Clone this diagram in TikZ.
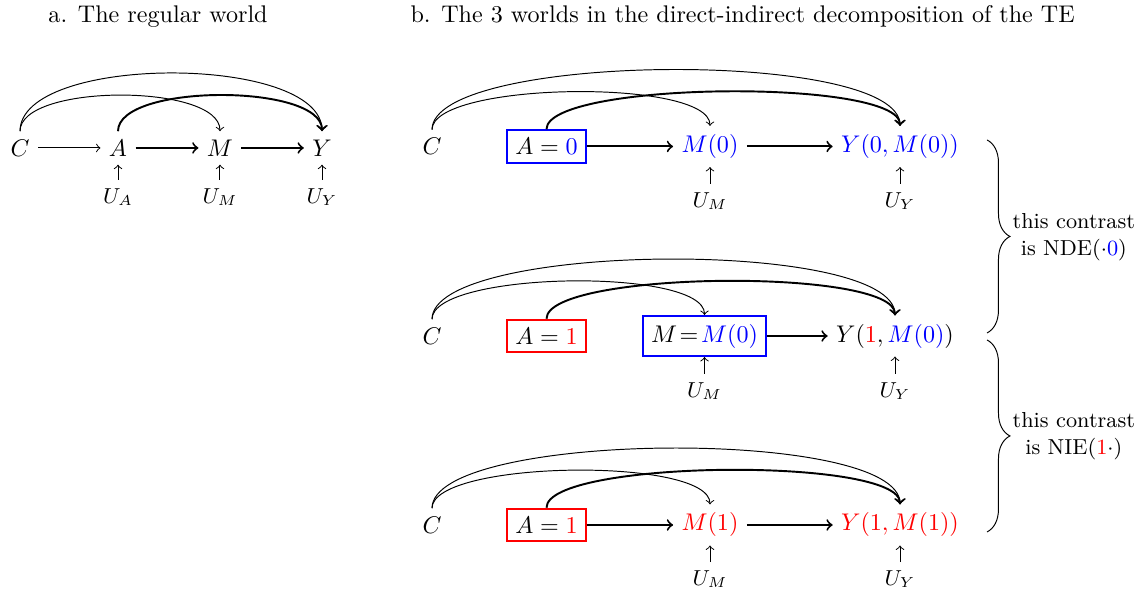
\documentclass[tikz,border=0pt]{standalone}
\usepackage{amsmath}
\usepackage{tikz}
\usetikzlibrary{decorations.pathreplacing}

\begin{document}
\begin{tikzpicture}[
    causal/.style={->, thick},
    noise/.style={->},
    setbox/.style={draw, thick},
    unode/.style={font=\small},
    longarc/.style={out=90, in=90, distance=1.13cm},
    shortarc/.style={out=90, in=90, distance=0.7cm},
    contrast/.style={decorate, decoration={brace, amplitude=9.5pt}}
]
    \useasboundingbox (0,0) rectangle (16.625,8.633);
    % Titles
    \node[anchor=base west, inner sep=0] (ta) at (0.70,8.30) {a. The regular world};
    \node[anchor=base west, inner sep=0] (tb) at (5.98,8.30) {b. The 3 worlds in the direct-indirect decomposition of the TE};

    % a. The regular world
    \node (C) at (0.292,6.475) {$C$};
    \node (A) at (1.721,6.475) {$A$};
    \node (M) at (3.208,6.475) {$M$};
    \node (Y) at (4.696,6.475) {$Y$};
    \node[unode] (UA) at (1.721,5.760) {$U_A$};
    \node[unode] (UM) at (3.208,5.760) {$U_M$};
    \node[unode] (UY) at (4.696,5.760) {$U_Y$};
    \draw[->] (C) -- (A);
    \draw[causal] (A) -- (M);
    \draw[causal] (M) -- (Y);
    \draw[noise] (UA) -- (A);
    \draw[noise] (UM) -- (M);
    \draw[noise] (UY) -- (Y);
    \draw[->] (C.north) to[longarc] (Y.north);
    \draw[->] (C.north) to[shortarc] (M.north);
    \draw[causal] (A.north) to[shortarc] (Y.north);

    % b. world 1: A=0, M(0)
    \node (C1) at (6.300,6.497) {$C$};
    \node[setbox, blue] (A1) at (7.970,6.497) {$\color{black}A = {\color{blue}0}$};
    \node (M1) at (10.354,6.497) {$\color{blue}M(0)$};
    \node (Y1) at (13.125,6.497) {$\color{blue}Y(0, M(0))$};
    \node[unode] (UM1) at (10.354,5.702) {$U_M$};
    \node[unode] (UY1) at (13.125,5.702) {$U_Y$};
    \draw[causal] (A1) -- (M1);
    \draw[causal] (M1) -- (Y1);
    \draw[noise] (UM1) -- (M1);
    \draw[noise] (UY1) -- (Y1);
    \draw[->] (C1.north) to[longarc] (Y1.north);
    \draw[->] (C1.north) to[shortarc] (M1.north);
    \draw[causal] (A1.north) to[shortarc] (Y1.north);

    % b. world 2: A=1, M fixed at M(0)
    \node (C2) at (6.300,3.733) {$C$};
    \node[setbox, red] (A2) at (7.970,3.733) {$\color{black}A = {\color{red}1}$};
    \node[setbox, blue] (M2) at (10.274,3.733) {$\color{black}M\!=\!{\color{blue}M(0)}$};
    \node (Y2) at (13.052,3.733) {$Y({\color{red}1}, {\color{blue}M(0)})$};
    \node[unode] (UM2) at (10.274,2.931) {$U_M$};
    \node[unode] (UY2) at (13.052,2.931) {$U_Y$};
    \draw[causal] (M2) -- (Y2);
    \draw[noise] (UM2) -- (M2);
    \draw[noise] (UY2) -- (Y2);
    \draw[->] (C2.north) to[longarc] (Y2.north);
    \draw[->] (C2.north) to[shortarc] (M2.north);
    \draw[causal] (A2.north) to[shortarc] (Y2.north);

    % b. world 3: A=1, M(1)
    \node (C3) at (6.300,0.977) {$C$};
    \node[setbox, red] (A3) at (7.970,0.977) {$\color{black}A = {\color{red}1}$};
    \node (M3) at (10.354,0.977) {$\color{red}M(1)$};
    \node (Y3) at (13.125,0.977) {$\color{red}Y(1, M(1))$};
    \node[unode] (UM3) at (10.354,0.185) {$U_M$};
    \node[unode] (UY3) at (13.125,0.185) {$U_Y$};
    \draw[causal] (A3) -- (M3);
    \draw[causal] (M3) -- (Y3);
    \draw[noise] (UM3) -- (M3);
    \draw[noise] (UY3) -- (Y3);
    \draw[->] (C3.north) to[longarc] (Y3.north);
    \draw[->] (C3.north) to[shortarc] (M3.north);
    \draw[causal] (A3.north) to[shortarc] (Y3.north);

    % Contrasts
    \coordinate (b1top) at (14.394,6.592);
    \coordinate (b1bot) at (14.394,3.777);
    \coordinate (b2top) at (14.394,3.675);
    \coordinate (b2bot) at (14.394,0.875);
    \draw[contrast] (b1top) -- (b1bot);
    \draw[contrast] (b2top) -- (b2bot);
    \node[align=center, font=\small] (nde) at (15.66,5.177) {this contrast\\is NDE($\cdot${\color{blue}0})};
    \node[align=center, font=\small] (nie) at (15.66,2.275) {this contrast\\is NIE({\color{red}1}$\cdot$)};
\end{tikzpicture}
\end{document}
